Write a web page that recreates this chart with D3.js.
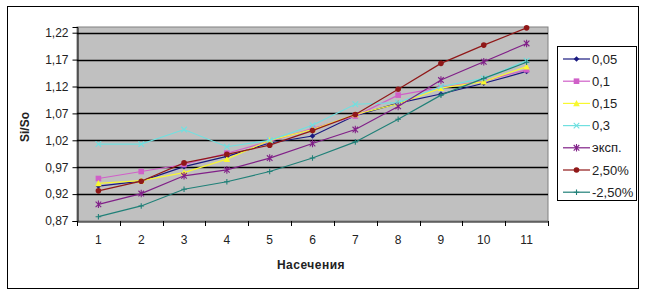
<!DOCTYPE html>
<html><head><meta charset="utf-8">
<script src="https://cdn.jsdelivr.net/npm/d3@7"></script>
<style>body{margin:0;background:#fff}svg{display:block}text{font-family:"Liberation Sans",Arial,sans-serif}</style>
</head><body><svg id="c" width="647" height="296"></svg>
<script>
const categories = [1,2,3,4,5,6,7,8,9,10,11];
const seriesNames = ["0,05","0,1","0,15","0,3","эксп.","2,50%","-2,50%"];
const s005  = [0.935,0.944,0.971,0.990,1.015,1.028,1.066,1.089,1.106,1.126,1.148];
const s01   = [0.949,0.962,0.975,0.996,1.018,1.042,1.065,1.104,1.118,1.130,1.151];
const s015  = [0.940,0.945,0.960,0.985,1.020,1.040,1.068,1.088,1.117,1.129,1.157];
const s03   = [1.013,1.013,1.040,1.008,1.020,1.048,1.087,1.090,1.120,1.135,1.168];
const sExp  = [0.901,0.921,0.954,0.965,0.987,1.014,1.040,1.083,1.132,1.166,1.200];
const sP25  = [0.926,0.944,0.978,0.994,1.011,1.038,1.068,1.115,1.163,1.197,1.229];
const sM25  = [0.878,0.898,0.929,0.943,0.962,0.987,1.017,1.059,1.104,1.135,1.165];
const yTicks = [0.87,0.92,0.97,1.02,1.07,1.12,1.17,1.22];
const seriesData = [s005,s01,s015,s03,sExp,sP25,sM25];
const colors = ["#1a1a80","#d060c8","#f8f830","#70e0e0","#802088","#901818","#208078"];
const markers = ["diamond","square","triangle","x","star","circle","plus"];

const svg = d3.select("#c");
svg.append("rect").attr("x",7.5).attr("y",6.5).attr("width",631).attr("height",282).attr("fill","#fff").attr("stroke","#000").attr("stroke-width",1);

const L=77,R=548,T=27,B=221;
const x = d3.scaleBand().domain(categories).range([L,R]).padding(0);
const y = d3.scaleLinear().domain([0.87,1.2306]).range([B,T]);

svg.append("rect").attr("x",L).attr("y",T).attr("width",R-L).attr("height",B-T).attr("fill","#c0c0c0").attr("stroke","#808080");

const g = svg.append("g");
g.selectAll("line.grid").data(yTicks.slice(1)).join("line")
 .attr("x1",L).attr("x2",R).attr("y1",d=>Math.round(y(d))+0.5).attr("y2",d=>Math.round(y(d))+0.5)
 .attr("stroke","#000").attr("stroke-width",1.3);

const yAxis = d3.axisLeft(y).tickValues(yTicks).tickFormat(d=>d3.format(".2f")(d).replace(".",",")).tickSize(5).tickPadding(4);
const ya = svg.append("g").attr("transform",`translate(${L+0.5},0)`).call(yAxis);
ya.selectAll("text").attr("font-size",12).attr("fill","#222");
ya.select(".domain").attr("stroke","#000");

const xAxis = d3.axisBottom(x).tickSize(0).tickPadding(14);
const xa = svg.append("g").attr("transform",`translate(0,${B+0.5})`).call(xAxis);
xa.selectAll("text").attr("font-size",12).attr("fill","#222");
xa.select(".domain").attr("stroke","#000");
const bounds = d3.range(categories.length+1).map(i=>L+i*x.bandwidth());
svg.selectAll("line.xt").data(bounds).join("line").attr("x1",d=>Math.round(d)+0.5).attr("x2",d=>Math.round(d)+0.5)
 .attr("y1",B).attr("y2",B+5).attr("stroke","#000");

svg.append("text").attr("transform","translate(29,127) rotate(-90)").attr("text-anchor","middle")
 .attr("font-size",12).attr("font-weight","bold").attr("fill","#222").text("Si/So");
svg.append("text").attr("x",311).attr("y",269).attr("text-anchor","middle")
 .attr("font-size",12).attr("font-weight","bold").attr("letter-spacing",0.5).attr("fill","#222").text("Насечения");

function marker(sel,type,color){
  const s=2.8;
  if(type==="diamond") sel.append("path").attr("d",`M0,${-s}L${s},0L0,${s}L${-s},0Z`).attr("fill",color);
  else if(type==="square") sel.append("rect").attr("x",-s).attr("y",-s).attr("width",2*s).attr("height",2*s).attr("fill",color);
  else if(type==="triangle") sel.append("path").attr("d",`M0,${-s-0.5}L${s+0.5},${s}L${-s-0.5},${s}Z`).attr("fill",color);
  else if(type==="circle") sel.append("circle").attr("r",s).attr("fill",color);
  else if(type==="x") sel.append("path").attr("d",`M${-s},${-s}L${s},${s}M${-s},${s}L${s},${-s}`).attr("stroke",color).attr("stroke-width",1.1);
  else if(type==="star") sel.append("path").attr("d",`M${-s},${-s}L${s},${s}M${-s},${s}L${s},${-s}M0,${-s-1}L0,${s+1}`).attr("stroke",color).attr("stroke-width",1.1);
  else if(type==="plus") sel.append("path").attr("d",`M${-s},0L${s},0M0,${-s}L0,${s}`).attr("stroke",color).attr("stroke-width",1.1);
}

const line = d3.line().x((d,i)=>x(categories[i])+x.bandwidth()/2).y(d=>y(d));
seriesData.forEach((data,k)=>{
  const sg = svg.append("g");
  sg.append("path").attr("d",line(data)).attr("fill","none").attr("stroke",colors[k]).attr("stroke-width",1.2);
  data.forEach((v,i)=>{
    const m = sg.append("g").attr("transform",`translate(${x(categories[i])+x.bandwidth()/2},${y(v)})`);
    marker(m,markers[k],colors[k]);
  });
});

// legend
svg.append("rect").attr("x",557.5).attr("y",46.5).attr("width",79).attr("height",154).attr("fill","#fff").attr("stroke","#000");
seriesNames.forEach((n,k)=>{
  const yy = 59 + k*22.2;
  const lg = svg.append("g");
  lg.append("line").attr("x1",563).attr("x2",590).attr("y1",yy).attr("y2",yy).attr("stroke",colors[k]).attr("stroke-width",1.2);
  const m = lg.append("g").attr("transform",`translate(576.5,${yy})`);
  marker(m,markers[k],colors[k]);
  lg.append("text").attr("x",592).attr("y",yy+4.5).attr("font-size",13).attr("fill","#222").text(n);
});
</script></body></html>
